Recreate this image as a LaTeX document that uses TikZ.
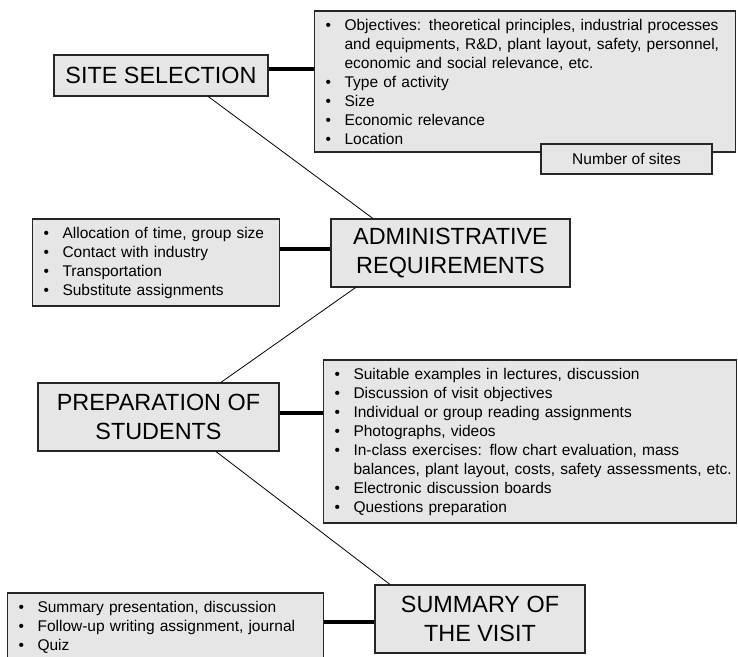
\documentclass[tikz,border=0pt]{standalone}
\usepackage{fontspec}
\setmainfont{Liberation Sans}
\definecolor{boxgray}{RGB}{230,230,230}
\newcommand{\bitem}[1]{\mbox{\makebox[19pt][l]{\textbullet}#1}}
\newcommand{\bcont}[1]{\mbox{\hspace*{19pt}#1}}

\begin{document}
\begin{tikzpicture}[x=1pt, y=-1pt,
    every node/.style={rectangle, draw=black!85, fill=boxgray, line width=1.1pt, inner sep=0pt},
    titlebox/.style={font=\fontsize{23.4}{29}\selectfont, align=center},
    listbox/.style={font=\fontsize{15.5}{19}\selectfont, align=left, anchor=west, inner xsep=11pt},
    bar/.style={line width=4.5pt},
    link/.style={line width=0.8pt}]
  \useasboundingbox (0,0) rectangle (738,656);

  % Etapas
  \node[titlebox, minimum width=214, minimum height=41] (site) at (161,75.5) {SITE SELECTION};
  \node[titlebox, minimum width=239, minimum height=68] (admin) at (450.5,253) {ADMINISTRATIVE\\REQUIREMENTS};
  \node[titlebox, minimum width=241, minimum height=68] (prep) at (158.5,417) {PREPARATION OF\\STUDENTS};
  \node[titlebox, minimum width=210, minimum height=68] (summary) at (480,619) {SUMMARY OF\\THE VISIT};

  % Listas
  \node[listbox, text width=399, minimum height=141] (obj) at (314,81.5) {%
    \bitem{Objectives: theoretical principles, industrial processes}\\
    \bcont{and equipments, R\&D, plant layout, safety, personnel,}\\
    \bcont{economic and social relevance, etc.}\\
    \bitem{Type of activity}\\
    \bitem{Size}\\
    \bitem{Economic relevance}\\
    \bitem{Location}};
  \node[font=\fontsize{15.5}{19}\selectfont, minimum width=171, minimum height=30] (sites) at (626.5,159) {Number of sites};
  \node[listbox, text width=225, minimum height=87] (adminlist) at (32,262.5) {%
    \bitem{Allocation of time, group size}\\
    \bitem{Contact with industry}\\
    \bitem{Transportation}\\
    \bitem{Substitute assignments}};
  \node[listbox, text width=391, minimum height=163] (preplist) at (323,441.5) {%
    \bitem{Suitable examples in lectures, discussion}\\
    \bitem{Discussion of visit objectives}\\
    \bitem{Individual or group reading assignments}\\
    \bitem{Photographs, videos}\\
    \bitem{In-class exercises: flow chart evaluation, mass}\\
    \bcont{balances, plant layout, costs, safety assessments, etc.}\\
    \bitem{Electronic discussion boards}\\
    \bitem{Questions preparation}};
  \node[listbox, text width=294, minimum height=68] (summarylist) at (7,627) {%
    \bitem{Summary presentation, discussion}\\
    \bitem{Follow-up writing assignment, journal}\\
    \bitem{Quiz}};

  % Ligações
  \draw[bar] ([yshift=6.5pt]site.east) -- ([yshift=6.5pt]site.east -| obj.west);
  \draw[bar] ([yshift=4pt]admin.west) -- ([yshift=4pt]admin.west -| adminlist.east);
  \draw[bar] ([yshift=4pt]prep.east) -- ([yshift=4pt]prep.east -| preplist.west);
  \draw[bar] ([yshift=-3pt]summary.west) -- ([yshift=-3pt]summary.west -| summarylist.east);
  \draw[link] (site.-24) -- (admin.156);
  \draw[link] (admin.200) -- (prep.29);
  \draw[link] (prep.-31) -- (summary.159);
\end{tikzpicture}
\end{document}
